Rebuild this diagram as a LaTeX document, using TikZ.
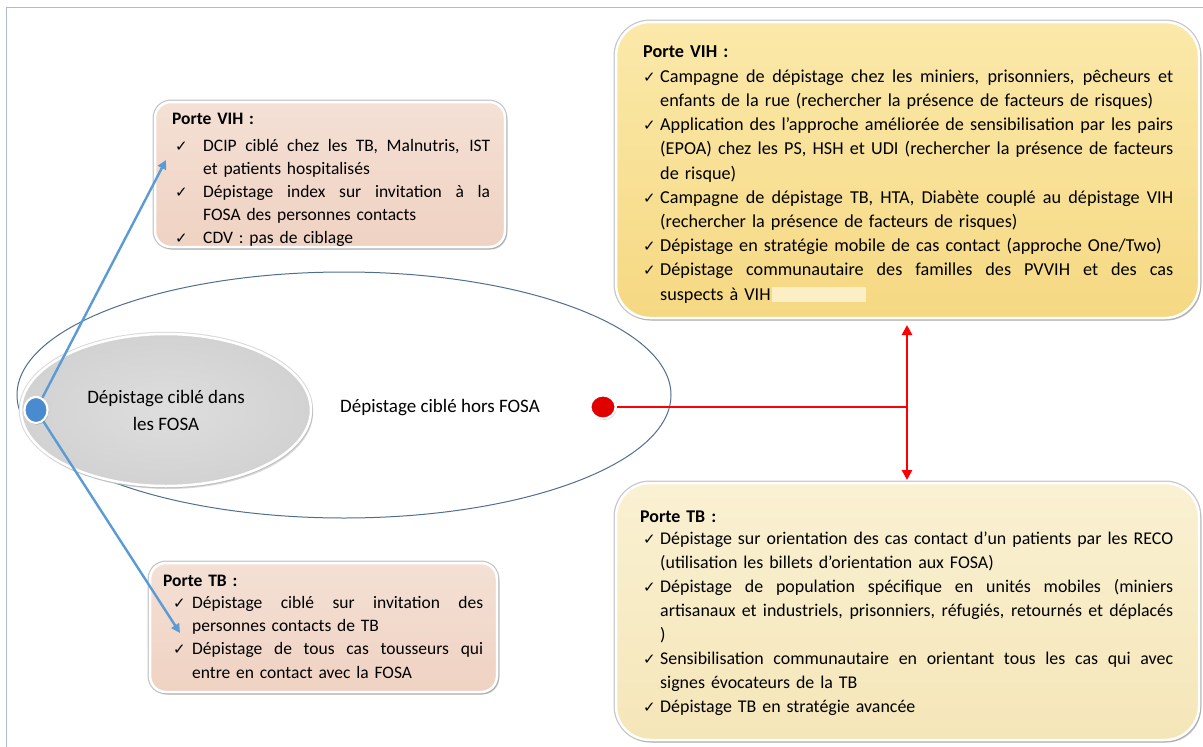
\documentclass[tikz,border=0pt]{standalone}
\usepackage{fontspec}
\setmainfont{Carlito}
\newfontfamily\symf{DejaVu Sans}
\usetikzlibrary{shadows,arrows.meta,shapes.geometric}
\definecolor{frameblue}{HTML}{A9BCD0}
\definecolor{ellblue}{HTML}{4F6F8F}
\definecolor{arrblue}{HTML}{5B9BD5}
\definecolor{dotblue}{HTML}{4A8BD0}
\definecolor{dotred}{HTML}{E00000}
\definecolor{pinkT}{HTML}{F4E0D5}
\definecolor{pinkB}{HTML}{EFD2C2}
\definecolor{yelT}{HTML}{FBE9AA}
\definecolor{yelB}{HTML}{F5D882}
\definecolor{creT}{HTML}{FAF1D3}
\definecolor{creB}{HTML}{F5E6B8}
\definecolor{grayIn}{HTML}{DEDEDE}
\definecolor{grayOut}{HTML}{D2D2D2}
\definecolor{hiliteY}{HTML}{FCEFC6}
\newlength\hng
\newlength\jw
\newcommand{\ck}{{\symf\fontsize{15}{15}\selectfont ✓}}
\newcommand{\jbox}[1]{\makebox[\jw][s]{\spaceskip=0pt\relax\xspaceskip=0pt\relax #1}}
% first line of an item, justified / not justified
\newcommand{\Jf}[1]{\leavevmode\hbox to\hng{\ck\hfil}\jbox{#1}}
\newcommand{\Nf}[1]{\leavevmode\hbox to\hng{\ck\hfil}#1}
% continuation line, justified / not justified
\newcommand{\Jc}[1]{\leavevmode\hspace*{\hng}\jbox{#1}}
\newcommand{\Nc}[1]{\leavevmode\hspace*{\hng}#1}
\tikzset{
  box/.style={rectangle, inner sep=0pt, draw=white, line width=2.5pt,
    preaction={draw=black!22, line width=5pt},
    drop shadow={shadow xshift=2pt, shadow yshift=-2.5pt, opacity=0.35}},
  txt/.style={inner sep=0pt, anchor=base west, align=left},
  dot/.style={ellipse, inner sep=0pt, draw=white, line width=2pt,
    drop shadow={shadow xshift=1pt, shadow yshift=-1.5pt, opacity=0.35}},
  bluearr/.style={draw=arrblue, line width=2.4pt, -{Triangle[width=9pt,length=9pt]}},
  redl/.style={draw=red, line width=2.6pt},
}
\begin{document}
\begin{tikzpicture}[x=1pt,y=-1pt]
\useasboundingbox (0,0) rectangle (1203,747);
\draw[frameblue, line width=1pt] (6,747) -- (6,7) -- (1203,7);

% big ellipse
\node[ellipse, draw=ellblue, line width=1pt, minimum width=654pt, minimum height=246pt, inner sep=0pt] (outer) at (344,395) {};
% inner gray ellipse
\node[ellipse, draw=white, line width=2.5pt, inner color=grayIn, outer color=grayOut,
  preaction={draw=black!15, line width=4.5pt},
  drop shadow={shadow xshift=2pt, shadow yshift=-3pt, opacity=0.3},
  minimum width=290pt, minimum height=152pt, inner sep=0pt,
  align=center, font=\fontsize{19}{27}\selectfont] (inner) at (166,410) {Dépistage ciblé dans\\les FOSA};
\node[font=\fontsize{19}{23}\selectfont, inner sep=0pt] (hors) at (440,408) {Dépistage ciblé hors FOSA};

% boxes
\node[box, rounded corners=16pt, top color=pinkT, bottom color=pinkB, minimum width=350pt, minimum height=145pt] (vihL) at (330,174.5) {};
\node[box, rounded corners=16pt, top color=pinkT, bottom color=pinkB, minimum width=347pt, minimum height=129pt] (tbL) at (323.5,627.5) {};
\node[box, rounded corners=34pt, top color=yelT, bottom color=yelB, minimum width=583pt, minimum height=296pt] (vihR) at (907.5,170) {};
\node[box, rounded corners=34pt, top color=creT, bottom color=creB, minimum width=583pt, minimum height=257pt] (tbR) at (907.5,611.5) {};

% texts
\node[txt, text width=330pt, font=\fontsize{17.5}{23}\selectfont,
  execute at begin node={\setlength\hng{28pt}\setlength\jw{287pt}}] (tvihL) at (175,124) {%
\hspace*{-3pt}\textbf{Porte VIH :}\\[4pt]
\Jf{DCIP ciblé chez les TB, Malnutris, IST}\\
\Nc{et patients hospitalisés}\\
\Jf{Dépistage index sur invitation à la}\\
\Nc{FOSA des personnes contacts}\\
\Nf{CDV : pas de ciblage}};

\node[txt, text width=330pt, font=\fontsize{17.5}{23.3}\selectfont,
  execute at begin node={\setlength\hng{19pt}\setlength\jw{291pt}}] (ttbL) at (173,586) {%
\hspace*{-10pt}\textbf{Porte TB :}\\[-1pt]
\Jf{Dépistage ciblé sur invitation des}\\
\Nc{personnes contacts de TB}\\
\Jf{Dépistage de tous cas tousseurs qui}\\
\Nc{entre en contact avec la FOSA}};

\node[txt, text width=560pt, font=\fontsize{18.2}{24.2}\selectfont,
  execute at begin node={\setlength\hng{17pt}\setlength\jw{513pt}}] (tvihR) at (643,57) {%
\textbf{Porte VIH :}\\[1pt]
\Jf{Campagne de dépistage chez les miniers, prisonniers, pêcheurs et}\\
\Nc{enfants de la rue (rechercher la présence de facteurs de risques)}\\
\Jf{Application des l’approche améliorée de sensibilisation par les pairs}\\
\Jc{(EPOA) chez les PS, HSH et UDI (rechercher la présence de facteurs}\\
\Nc{de risque)}\\
\Jf{Campagne de dépistage TB, HTA, Diabète couplé au dépistage VIH}\\
\Nc{(rechercher la présence de facteurs de risques)}\\
\Nf{Dépistage en stratégie mobile de cas contact (approche One/Two)}\\
\Jf{Dépistage communautaire des familles des PVVIH et des cas}\\
\Nc{suspects à VIH}};
\fill[hiliteY] (772,287) rectangle (866,302);

\node[txt, text width=560pt, font=\fontsize{17.9}{24.1}\selectfont,
  execute at begin node={\setlength\hng{17pt}\setlength\jw{513pt}}] (ttbR) at (643,522) {%
\hspace*{-3pt}\textbf{Porte TB :}\\[-2pt]
\Jf{Dépistage sur orientation des cas contact d’un patients par les RECO}\\
\Nc{(utilisation les billets d’orientation aux FOSA)}\\
\Jf{Dépistage de population spécifique en unités mobiles (miniers}\\
\Jc{artisanaux et industriels, prisonniers, réfugiés, retournés et déplacés}\\
\Nc{)}\\
\Jf{Sensibilisation communautaire en orientant tous les cas qui avec}\\
\Nc{signes évocateurs de la TB}\\
\Nf{Dépistage TB en stratégie avancée}};

% dots and connectors
\coordinate (endV) at (166,160);
\coordinate (endT) at (180,633);
\node[dot, fill=dotblue, minimum width=23pt, minimum height=26pt] (bdot) at (36,410) {};
\draw[bluearr] (bdot) -- (endV);
\draw[bluearr] (bdot) -- (endT);
\node[dot, fill=dotblue, minimum width=23pt, minimum height=26pt] at (bdot) {};

\node[dot, fill=dotred, minimum width=25pt, minimum height=23pt] (rdot) at (603,407) {};
\coordinate (junc) at (907,407);
\coordinate (upT) at (907,325);
\coordinate (dnT) at (907,480);
\draw[redl] (rdot.east) -- (junc);
\draw[redl, {Triangle[width=10pt,length=10pt]}-{Triangle[width=10pt,length=10pt]}] (upT) -- (dnT);
\end{tikzpicture}
\end{document}
